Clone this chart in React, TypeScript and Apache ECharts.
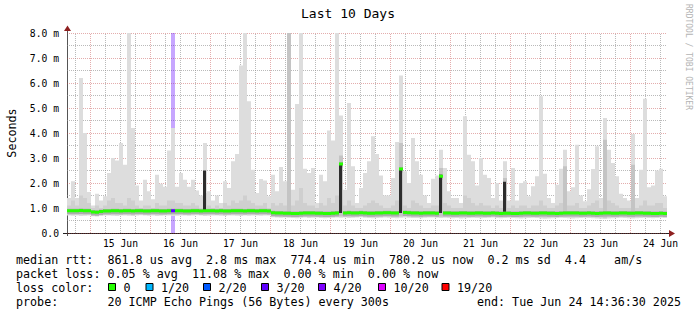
import React, { useEffect, useRef } from "react";
import * as echarts from "echarts";

// ---------------- data ----------------
const chartTitle = "Last 10 Days";
const yAxisName = "Seconds";
const watermark = "RRDTOOL / TOBI OETIKER";
const yTickLabels = ["0.0", "1.0 m", "2.0 m", "3.0 m", "4.0 m", "5.0 m", "6.0 m", "7.0 m", "8.0 m"];
const dayLabels = ["15 Jun", "16 Jun", "17 Jun", "18 Jun", "19 Jun", "20 Jun", "21 Jun", "22 Jun", "23 Jun", "24 Jun"];
const startClockHours = 14 + 36 / 60 + 30 / 3600; // Jun 14 14:36:30
const spanHours = 240;
const binHours = 1.6;
const yMaxMs = 8;

// smoke: bottom of smoke, top of the denser band, top of the lightest band (ms)
const smokeLow = [
  0.70, 0.69, 0.70, 0.68, 0.69, 0.70, 0.67, 0.66, 0.68, 0.70,
  0.70, 0.69, 0.68, 0.70, 0.70, 0.69, 0.68, 0.70, 0.71, 0.70,
  0.69, 0.70, 0.68, 0.69, 0.70, 0.70, 0.68, 0.69, 0.70, 0.70,
  0.69, 0.70, 0.71, 0.70, 0.68, 0.69, 0.70, 0.70, 0.69, 0.68,
  0.70, 0.70, 0.69, 0.68, 0.70, 0.69, 0.70, 0.70, 0.69, 0.70,
  0.70, 0.63, 0.62, 0.61, 0.62, 0.61, 0.60, 0.59, 0.61, 0.62,
  0.60, 0.61, 0.62, 0.60, 0.59, 0.60, 0.61, 0.62, 0.61, 0.62,
  0.60, 0.61, 0.62, 0.63, 0.61, 0.60, 0.59, 0.60, 0.61, 0.62,
  0.61, 0.60, 0.59, 0.61, 0.62, 0.61, 0.60, 0.60, 0.59, 0.61,
  0.62, 0.62, 0.61, 0.60, 0.61, 0.60, 0.59, 0.60, 0.58, 0.59,
  0.60, 0.61, 0.60, 0.59, 0.60, 0.61, 0.62, 0.60, 0.59, 0.60,
  0.61, 0.60, 0.59, 0.58, 0.59, 0.60, 0.61, 0.60, 0.58, 0.57,
  0.58, 0.59, 0.60, 0.61, 0.60, 0.59, 0.58, 0.59, 0.60, 0.61,
  0.60, 0.59, 0.58, 0.57, 0.56, 0.58, 0.59, 0.60, 0.61, 0.60,
  0.59, 0.58, 0.59, 0.60, 0.61, 0.60, 0.59, 0.60, 0.61, 0.60,
];
const smokeMid = [
  1.1, 1.3, 1.1, 1.5, 1.4, 1.2, 1.0, 1.1, 1.0, 1.1,
  1.3, 1.4, 1.2, 1.2, 1.1, 1.4, 1.3, 1.1, 1.0, 1.1,
  1.1, 1.0, 1.2, 1.1, 1.1, 1.3, 1.3, 1.2, 1.2, 1.1,
  1.1, 1.2, 1.1, 1.0, 1.6, 1.1, 1.0, 1.1, 1.0, 1.2,
  1.1, 1.3, 1.2, 1.3, 1.5, 1.3, 1.2, 1.1, 1.1, 1.2,
  1.0, 1.2, 1.1, 1.2, 1.1, 8.0, 1.1, 1.3, 1.8, 1.2,
  1.1, 1.1, 1.0, 1.2, 1.1, 1.4, 1.2, 1.5, 3.1, 1.1,
  1.3, 1.1, 1.0, 1.0, 1.1, 1.2, 1.3, 1.2, 1.1, 1.0,
  1.0, 1.1, 1.3, 3.6, 1.1, 1.0, 1.3, 1.2, 1.1, 1.0,
  1.0, 1.1, 1.1, 2.6, 1.2, 1.1, 1.0, 1.0, 1.0, 1.5,
  1.4, 1.2, 1.1, 1.2, 1.1, 1.1, 1.0, 1.1, 1.0, 2.2,
  1.0, 1.1, 1.0, 1.1, 1.1, 1.0, 1.1, 1.1, 1.3, 1.1,
  1.0, 1.0, 1.1, 1.2, 2.67, 1.1, 1.1, 1.2, 1.0, 1.0,
  1.1, 1.2, 1.3, 1.0, 3.73, 1.3, 1.2, 1.1, 1.0, 1.0,
  1.0, 2.73, 1.0, 1.1, 1.3, 1.1, 1.1, 1.2, 1.2, 1.0,
];
const smokeMax = [
  1.4, 2.07, 1.4, 6.2, 4.0, 1.64, 1.1, 1.57, 1.3, 1.47,
  2.4, 3.0, 2.9, 3.6, 2.73, 8.0, 4.2, 1.9, 1.3, 2.13,
  1.67, 1.35, 2.33, 1.97, 1.85, 3.3, 4.2, 1.85, 2.4, 2.13,
  1.85, 2.13, 1.7, 1.5, 3.6, 1.67, 1.3, 1.5, 1.2, 2.07,
  1.8, 2.87, 3.16, 6.7, 8.0, 5.27, 2.53, 1.6, 2.16, 2.1,
  1.47, 2.33, 1.67, 2.64, 2.07, 8.0, 1.73, 5.16, 8.0, 2.57,
  2.4, 2.6, 1.2, 2.33, 2.07, 4.1, 3.7, 8.0, 4.7, 1.73,
  5.2, 2.67, 1.2, 1.8, 2.4, 2.87, 3.87, 3.16, 2.3, 1.5,
  1.5, 2.2, 3.64, 6.3, 2.47, 2.0, 3.8, 2.87, 2.33, 1.5,
  1.2, 2.17, 2.3, 3.33, 2.6, 1.67, 1.4, 1.4, 1.2, 4.67,
  3.13, 2.87, 1.9, 3.0, 2.33, 2.2, 1.4, 2.0, 1.3, 2.87,
  1.3, 2.6, 1.3, 2.0, 2.07, 1.47, 1.87, 2.27, 5.47, 2.37,
  1.4, 1.2, 1.93, 2.57, 3.33, 1.67, 1.83, 3.53, 1.5, 1.27,
  1.75, 2.56, 3.47, 1.4, 4.6, 3.33, 2.8, 2.27, 1.57, 1.4,
  1.3, 3.96, 1.4, 2.53, 5.37, 1.83, 1.9, 2.5, 2.57, 1.47,
];
const medianRtt = [
  0.89, 0.89, 0.89, 0.90, 0.89, 0.89, 0.84, 0.83, 0.86, 0.88,
  0.88, 0.89, 0.89, 0.88, 0.89, 0.89, 0.88, 0.89, 0.89, 0.88,
  0.88, 0.89, 0.89, 0.88, 0.88, 0.89, 0.89, 0.89, 0.89, 0.88,
  0.88, 0.89, 0.89, 0.88, 0.89, 0.89, 0.89, 0.88, 0.89, 0.88,
  0.88, 0.89, 0.89, 0.89, 0.88, 0.89, 0.89, 0.88, 0.89, 0.89,
  0.88, 0.81, 0.80, 0.80, 0.79, 0.79, 0.78, 0.78, 0.79, 0.80,
  0.80, 0.80, 0.79, 0.79, 0.78, 0.78, 0.79, 0.80, 2.76, 0.80,
  0.81, 0.80, 0.80, 0.81, 0.80, 0.79, 0.79, 0.80, 0.80, 0.81,
  0.81, 0.80, 0.80, 2.56, 0.82, 0.81, 0.80, 0.80, 0.79, 0.80,
  0.80, 0.80, 0.79, 2.27, 0.80, 0.80, 0.79, 0.79, 0.80, 0.80,
  0.79, 0.79, 0.80, 0.80, 0.79, 0.79, 0.80, 0.79, 0.78, 0.79,
  0.79, 0.78, 0.78, 0.79, 0.80, 0.80, 0.79, 0.79, 0.80, 0.80,
  0.79, 0.79, 0.78, 0.79, 0.80, 0.80, 0.80, 0.80, 0.79, 0.79,
  0.80, 0.79, 0.78, 0.79, 0.80, 0.80, 0.79, 0.79, 0.80, 0.80,
  0.79, 0.79, 0.80, 0.80, 0.79, 0.79, 0.78, 0.78, 0.79, 0.78,
];
// bins where many pings were high (dark bars)
const darkBins = [34, 68, 83, 93, 109];
const darkBottom = [0.9, 0.8, 0.8, 0.8, 0.85];
const darkTop = [2.5, 2.8, 2.6, 2.33, 2.05];
// packet loss (pings lost of 20)
const lossBins = [26];
const lossCount = [3];

const lossLegendLabels = ["0", "1/20", "2/20", "3/20", "4/20", "10/20", "19/20"];
const lossLegendCounts = [0, 1, 2, 3, 4, 10, 19];
const lossLegendColors = ["#26ff00", "#00b8ff", "#0059ff", "#5e00ff", "#7e00ff", "#dd00ff", "#ff0000"];

const statsLine1 = "median rtt:  861.8 us avg  2.8 ms max  774.4 us min  780.2 us now  0.2 ms sd  4.4    am/s";
const statsLine2 = "packet loss: 0.05 % avg  11.08 % max  0.00 % min  0.00 % now";
const lossLine = "loss color:";
const probeLine = "probe:       20 ICMP Echo Pings (56 Bytes) every 300s";
const endLine = "end: Tue Jun 24 14:36:30 2025";

// ---------------- helpers ----------------
const MONO = "DejaVu Sans Mono";
const lossColorFor = (n: number) => {
  let c = lossLegendColors[0];
  lossLegendCounts.forEach((k, i) => {
    if (n >= k) c = lossLegendColors[i];
  });
  return c;
};
const hexToRgba = (hex: string, a: number) => {
  const r = parseInt(hex.slice(1, 3), 16);
  const g = parseInt(hex.slice(3, 5), 16);
  const b = parseInt(hex.slice(5, 7), 16);
  return `rgba(${r},${g},${b},${a})`;
};

const labelValues = dayLabels.map((_, k) => 24 * (k + 1) + 12 - startClockHours);
const gridRows: number[][] = [];
for (let clock = 0; clock < startClockHours + spanHours; clock += 6) {
  const h = clock - startClockHours;
  if (h > 0 && h < spanHours) gridRows.push([h, clock % 24 === 0 ? 1 : 0]);
}

const rows = smokeMax.map((mx, i) => {
  const d = darkBins.indexOf(i);
  const l = lossBins.indexOf(i);
  return [
    i,
    smokeLow[i],
    smokeMid[i],
    mx,
    medianRtt[i],
    d >= 0 ? darkTop[d] : 0,
    d >= 0 ? darkBottom[d] : 0,
    l >= 0 ? lossCount[l] : 0,
  ];
});

const MINOR = "rgba(140,140,140,0.6)";
const MAJOR = "rgba(190,60,60,0.42)";

const renderGrid = (params: any, api: any) => {
  const h = api.value(0);
  const major = api.value(1) === 1;
  const x = Math.round(api.coord([h, 0])[0]) + 0.5;
  const y0 = api.coord([h, 0])[1];
  const y1 = api.coord([h, yMaxMs])[1];
  return {
    type: "line",
    shape: { x1: x, y1: y0, x2: x, y2: y1 },
    style: { stroke: major ? MAJOR : MINOR, lineWidth: 1, lineDash: [1, 1] },
  };
};

const renderItem = (params: any, api: any) => {
  const i = api.value(0);
  const low = api.value(1);
  const mid = api.value(2);
  const max = api.value(3);
  const med = api.value(4);
  const dTop = api.value(5);
  const dBot = api.value(6);
  const loss = api.value(7);
  const xa = Math.round(api.coord([i * binHours, 0])[0]);
  const xb = Math.round(api.coord([(i + 1) * binHours, 0])[0]);
  const w = xb - xa;
  const Y = (v: number) => api.coord([0, Math.min(v, yMaxMs)])[1];
  const rect = (y1: number, y2: number, fill: string, x = xa, ww = w) => ({
    type: "rect",
    shape: { x, y: Math.min(y1, y2), width: ww, height: Math.abs(y2 - y1) },
    style: { fill },
  });
  const children: any[] = [];
  if (loss > 0) children.push(rect(Y(yMaxMs), Y(0), hexToRgba(lossColorFor(loss), 0.35)));
  children.push(rect(Y(low), Y(max), "#dddddd"));
  children.push(rect(Y(low + 0.05), Y(mid), mid > 2 ? "#c4c4c4" : "#cfcfcf"));
  const ym = Y(med);
  children.push(rect(ym - 2, ym + 3.5, "#adadad"));
  if (dTop > 0) children.push(rect(Y(dBot), Y(dTop), "#2e2e2e", xa, Math.max(w - 1, 1)));
  children.push(rect(ym - 1.5, ym + 1.5, lossColorFor(loss)));
  return { type: "group", children };
};

const buildOption = (): any => {
  const graphic: any[] = [
    {
      type: "text",
      x: 348,
      y: 13,
      style: { text: chartTitle, font: `13px '${MONO}'`, fill: "#000", align: "center", verticalAlign: "middle" },
    },
    {
      type: "text",
      x: 12,
      y: 133,
      rotation: Math.PI / 2,
      style: { text: yAxisName, font: `11.7px '${MONO}'`, fill: "#000", align: "center", verticalAlign: "middle" },
    },
    {
      type: "text",
      x: 688,
      y: 57,
      rotation: -Math.PI / 2,
      style: { text: watermark, font: `8px '${MONO}'`, fill: "#b4b4b4", align: "center", verticalAlign: "middle" },
    },
    // axes
    { type: "line", shape: { x1: 67.5, y1: 236, x2: 67.5, y2: 30 }, style: { stroke: "#555", lineWidth: 1 } },
    { type: "line", shape: { x1: 63, y1: 233.5, x2: 670, y2: 233.5 }, style: { stroke: "#222", lineWidth: 1 } },
    { type: "polygon", shape: { points: [[64, 31], [71, 31], [67.5, 25.5]] }, style: { fill: "#8e1f1f" } },
    { type: "polygon", shape: { points: [[669, 230], [669, 237], [675, 233.5]] }, style: { fill: "#8e1f1f" } },
  ];
  const textLine = (text: string, x: number, y: number, align = "left") => ({
    type: "text",
    x,
    y,
    style: { text, font: `11.7px '${MONO}'`, fill: "#000", align, verticalAlign: "middle" },
  });
  graphic.push(textLine(statsLine1, 16, 259.5));
  graphic.push(textLine(statsLine2, 16, 273.5));
  graphic.push(textLine(lossLine, 16, 287.5));
  graphic.push(textLine(probeLine, 16, 301.5));
  graphic.push(textLine(endLine, 681, 301.5, "right"));
  const squareX = [108.5, 146, 203.5, 261.5, 318.5, 378.5, 442];
  lossLegendLabels.forEach((lab, k) => {
    graphic.push({
      type: "rect",
      shape: { x: squareX[k], y: 283.5, width: 7, height: 7 },
      style: { fill: lossLegendColors[k], stroke: "#000", lineWidth: 1 },
    });
    graphic.push(textLine(lab, squareX[k] + 15, 287.5));
  });

  return {
    animation: false,
    backgroundColor: "#ffffff",
    grid: { left: 67, top: 33, width: 600, height: 200, containLabel: false },
    xAxis: {
      type: "value",
      min: 0,
      max: spanHours,
      axisLine: { show: false },
      axisTick: { show: false },
      splitLine: { show: false },
      axisLabel: {
        customValues: labelValues,
        formatter: (v: number) => {
          const k = labelValues.findIndex((lv) => Math.abs(lv - v) < 0.01);
          return k >= 0 ? dayLabels[k] : "";
        },
        fontFamily: MONO,
        fontSize: 9.7,
        color: "#000",
        margin: 5,
      },
    },
    yAxis: {
      type: "value",
      min: 0,
      max: yMaxMs,
      interval: 1,
      axisLine: { show: false },
      axisTick: { show: false },
      axisLabel: {
        formatter: (v: number) => yTickLabels[Math.round(v)] ?? "",
        fontFamily: MONO,
        fontSize: 9.7,
        color: "#000",
        margin: 8,
      },
      splitLine: { show: true, lineStyle: { color: MAJOR, type: [1, 1], width: 1 } },
      minorTick: { show: false, splitNumber: 2 },
      minorSplitLine: { show: true, lineStyle: { color: MINOR, type: [1, 1], width: 1 } },
    },
    series: [
      {
        type: "custom",
        z: 1,
        silent: true,
        renderItem: renderGrid,
        encode: { x: 0 },
        data: gridRows,
      },
      {
        type: "custom",
        z: 2,
        clip: true,
        silent: true,
        renderItem,
        encode: { x: 0, y: 3 },
        data: rows,
      },
    ],
    graphic,
  };
};

export default function App() {
  const ref = useRef<HTMLDivElement>(null);
  useEffect(() => {
    document.body.style.margin = "0";
    const chart = echarts.init(ref.current as HTMLDivElement, undefined, { renderer: "svg" });
    chart.setOption(buildOption());
    return () => chart.dispose();
  }, []);
  return <div ref={ref} style={{ width: 697, height: 315, background: "#fff" }} />;
}
